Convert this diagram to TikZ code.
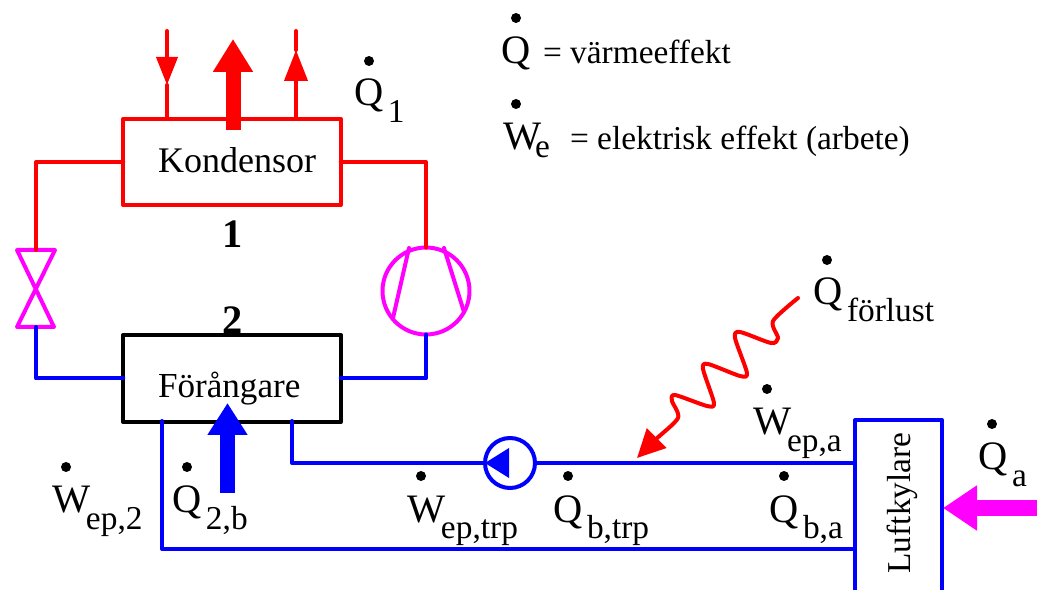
\documentclass[tikz,border=0pt]{standalone}
\usepackage{fontspec}
\setmainfont{Liberation Serif}
\usepackage{xcolor}
\usetikzlibrary{arrows.meta,positioning,calc}
\definecolor{hotcolor}{HTML}{FF0000}
\definecolor{coldcolor}{HTML}{0000FF}
\definecolor{partcolor}{HTML}{FF00FF}
\newcommand{\fsz}[1]{\fontsize{#1}{#1}\selectfont}
\newcommand{\flow}[2]{\makebox[0.68cm][l]{\fsz{23}#1}\lower0.34cm\hbox{\fsz{19}#2}}
\tikzset{
  pipe/.style={line width=0.08cm,line join=round,line cap=round},
  hotpipe/.style={pipe,draw=hotcolor},
  coldpipe/.style={pipe,draw=coldcolor},
  partpipe/.style={pipe,draw=partcolor},
  unitbox/.style={rectangle,pipe,fill=white,inner sep=0pt,outer sep=0pt,minimum width=4.35cm},
  txt/.style={anchor=base west,inner sep=0pt,outer sep=0pt,font=\fsz{20}},
  flowtxt/.style={anchor=base west,inner sep=0pt,outer sep=0pt},
  tdot/.style={circle,fill=black,inner sep=0pt,minimum size=0.2cm},
  digit/.style={inner sep=0pt,outer sep=0pt,anchor=base,font=\fsz{23}\bfseries}
}
\begin{document}
\begin{tikzpicture}[x=0.02cm,y=-0.02cm]
\useasboundingbox (0,0) rectangle (1037,590);
\fill[white] (0,0) rectangle (1037,590);

\node[digit] (one) at (233,248) {1};
\node[digit] (two) at (233,334) {2};

\node[unitbox,draw=hotcolor,minimum height=1.72cm] (kondbox) at (232,162) {};
\node[unitbox,draw=black,minimum height=1.74cm] (forbox) at (232,378.5) {};
\node[txt,font=\fsz{20.5}] (kondtxt) at (158,173) {Kondensor};
\node[txt] (fortxt) at (158,398) {Förångare};

% valve and compressor
\coordinate (valvetop) at (36,250);
\coordinate (valvebot) at (36,327);
\draw[partpipe] (17,250) -- (55,250) -- (17,327) -- (54,327) -- cycle;
\node[circle,partpipe,inner sep=0pt,outer sep=0pt,minimum size=1.74cm] (comp) at (426,291) {};
\draw[partpipe] (409,248) -- (393,318);
\draw[partpipe] (444,248) -- (464,312);

\draw[hotpipe] (kondbox.west) -| (valvetop);
\draw[hotpipe] (kondbox.east) -| (comp.north);
\draw[coldpipe] (forbox.west) -| (valvebot);
\draw[coldpipe] (forbox.east) -| (comp.south);

% air cooler and brine loop
\node[rotate=90,inner sep=0pt,font=\fsz{19}] (lufttxt) at (902,503) {Luftkylare};
\draw[coldpipe] (855,592) -- (855,420) -- (942,420) -- (942,592);
\coordinate (luftup) at (855,463);
\coordinate (luftlow) at (855,549);
\coordinate (forout) at (292,421);
\coordinate (forin) at (162,421);
\node[circle,coldpipe,inner sep=0pt,outer sep=0pt,minimum size=1cm] (pump) at (510,463) {};
\fill[coldcolor] (485,463) -- (509,448) -- (509,478) -- cycle;
\draw[coldpipe] (forout) |- (pump.west);
\draw[coldpipe] (pump.east) -- (luftup);
\draw[coldpipe] (forin) |- (luftlow);

% heat flows
\coordinate (qinstart) at (167,31);
\coordinate (qintip) at (167,85);
\draw[hotpipe,-{Triangle[length=0.56cm,width=0.42cm]}] (qinstart) -- (qintip);
\draw[hotpipe] (qintip) -- (qintip |- kondbox.north);
\coordinate (qouttop) at (296,31);
\coordinate (qouttip) at (296,50);
\draw[hotpipe] (qouttip) -- (qouttop);
\draw[hotpipe,-{Triangle[length=0.62cm,width=0.46cm]}] (qouttip |- kondbox.north) -- (qouttip);
\coordinate (qkondlow) at (233,130);
\coordinate (qkondtip) at (233,39);
\draw[hotcolor,line width=0.3cm,-{Triangle[length=0.66cm,width=0.76cm]}] (qkondlow) -- (qkondtip);
\coordinate (qforlow) at (227.5,493);
\coordinate (qfortip) at (227.5,403);
\draw[coldcolor,line width=0.29cm,-{Triangle[length=0.64cm,width=0.76cm]}] (qforlow) -- (qfortip);
\coordinate (qaend) at (1037,508);
\coordinate (qatip) at (943,508);
\draw[partcolor,line width=0.34cm,-{Triangle[length=0.68cm,width=0.86cm]}] (qaend) -- (qatip);
\coordinate (lossstart) at (798,298);
\coordinate (losstip) at (637,458);
\draw[hotcolor,line width=0.08cm,line cap=round,line join=round,-{Triangle[length=0.56cm,width=0.54cm]}]
  plot[smooth,tension=0.45] coordinates {(lossstart) (773,321) (778,338) (771,343) (740,332) (735,338) (747,373) (740,376) (708,364) (703,369) (714,403) (707,406) (675,395) (672,401) (678,418) (655,440) (losstip)};

% labels
\node[tdot] (dotq) at (516,18) {};
\node[flowtxt,font=\fsz{23}] (legq) at (501,64) {Q};
\node[txt,font=\fsz{19}] (legqtxt) at (543,64) {= värmeeffekt};
\node[tdot] (dotw) at (516,104) {};
\node[flowtxt] (legw) at (503,150) {\makebox[0.64cm][l]{\fsz{23}W}\lower0.16cm\hbox{\fsz{19}e}};
\node[txt,font=\fsz{19}] (legwtxt) at (570,150) {= elektrisk effekt (arbete)};
\node[tdot] (dotqone) at (369,61) {};
\node[flowtxt] (qone) at (354,106) {\flow{Q}{1}};
\node[tdot] (dotwtwo) at (66,467) {};
\node[flowtxt] (wtwo) at (52,513) {\flow{W}{ep,2}};
\node[tdot] (dotqtwo) at (187,467) {};
\node[flowtxt] (qtwo) at (172,513) {\flow{Q}{2,b}};
\node[tdot] (dotwtrp) at (421,476) {};
\node[flowtxt] (wtrp) at (407,522) {\flow{W}{ep,trp}};
\node[tdot] (dotqtrp) at (568,476) {};
\node[flowtxt] (qtrp) at (553,522) {\flow{Q}{b,trp}};
\node[tdot] (dotqba) at (784,476) {};
\node[flowtxt] (qba) at (769,522) {\flow{Q}{b,a}};
\node[tdot] (dotwa) at (767,389) {};
\node[flowtxt] (wa) at (753,435) {\flow{W}{ep,a}};
\node[tdot] (dotqa) at (992,424) {};
\node[flowtxt] (qa) at (978,470) {\flow{Q}{a}};
\node[tdot] (dotloss) at (827,260) {};
\node[flowtxt] (qloss) at (813,305) {\flow{Q}{förlust}};
\end{tikzpicture}
\end{document}
